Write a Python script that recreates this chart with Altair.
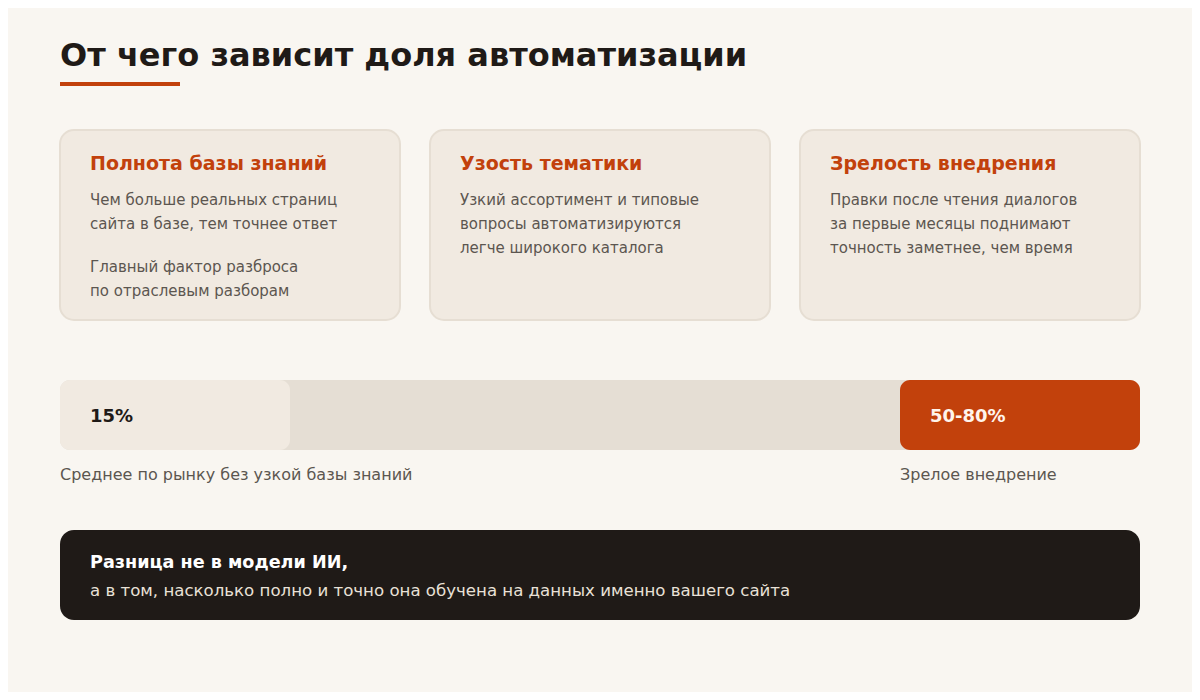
import altair as alt
import pandas as pd

# ---------------- content ----------------
title = "От чего зависит доля автоматизации"
card_titles = ["Полнота базы знаний", "Узость тематики", "Зрелость внедрения"]
card_lines = [
    ["Чем больше реальных страниц", "сайта в базе, тем точнее ответ", "",
     "Главный фактор разброса", "по отраслевым разборам"],
    ["Узкий ассортимент и типовые", "вопросы автоматизируются", "легче широкого каталога"],
    ["Правки после чтения диалогов", "за первые месяцы поднимают", "точность заметнее, чем время"],
]
bar_values = ["15%", "50-80%"]
bar_captions = ["Среднее по рынку без узкой базы знаний", "Зрелое внедрение"]
note_title = "Разница не в модели ИИ,"
note_text = "а в том, насколько полно и точно она обучена на данных именно вашего сайта"

# ---------------- layout (page pixels) ----------------
FONT = "DejaVu Sans"
BG = "#F9F6F1"
CARD = "#F1EAE1"
CARD_BORDER = "#E6DED3"
ORANGE = "#C2410C"
DARK = "#1F1A17"
TRACK = "#E5DED4"
GRAY = "#5C5650"
INK = "#1F1A17"

card_x0 = [60, 430, 800]
card_w = 340
card_y0, card_y1 = 130, 320
bar_y0, bar_y1 = 380, 450
bar_seg_x = [(60, 290), (900, 1140)]

xs = alt.Scale(domain=[8, 1192], range=[0, 1184], zero=False, nice=False)
ys = alt.Scale(domain=[8, 692], range=[0, 684], zero=False, nice=False)


def rects(df, **mark):
    return alt.Chart(df).mark_rect(**mark).encode(
        x=alt.X("x0:Q", scale=xs, axis=None),
        x2="x1:Q",
        y=alt.Y("y0:Q", scale=ys, axis=None),
        y2="y1:Q",
    )


def texts(df, **mark):
    return alt.Chart(df).mark_text(align="left", baseline="alphabetic", font=FONT, **mark).encode(
        x=alt.X("x:Q", scale=xs, axis=None),
        y=alt.Y("y:Q", scale=ys, axis=None),
        text="t:N",
    )


layers = []

# title + underline
layers.append(texts(pd.DataFrame({"x": [60], "y": [66], "t": [title]}),
                    fontSize=32, fontWeight="bold", color=INK))
layers.append(rects(pd.DataFrame({"x0": [60], "x1": [180], "y0": [82], "y1": [86]}), color=ORANGE))

# cards
cards = pd.DataFrame({"x0": card_x0, "x1": [x + card_w for x in card_x0],
                      "y0": [card_y0] * 3, "y1": [card_y1] * 3})
layers.append(rects(cards, fill=CARD, stroke=CARD_BORDER, strokeWidth=2, cornerRadius=14))
layers.append(texts(pd.DataFrame({"x": [x + 30 for x in card_x0], "y": [170] * 3, "t": card_titles}),
                    fontSize=19, fontWeight="bold", color=ORANGE))
rows = []
for cx, lines in zip(card_x0, card_lines):
    y = 205
    for ln in lines:
        if ln == "":
            y += 19
            continue
        rows.append({"x": cx + 30, "y": y, "t": ln})
        y += 24
layers.append(texts(pd.DataFrame(rows), fontSize=15, color=GRAY))

# bar
layers.append(rects(pd.DataFrame({"x0": [60], "x1": [1140], "y0": [bar_y0], "y1": [bar_y1]}),
                    color=TRACK, cornerRadius=10))
layers.append(rects(pd.DataFrame({"x0": [bar_seg_x[0][0]], "x1": [bar_seg_x[0][1]],
                                  "y0": [bar_y0], "y1": [bar_y1]}), color=CARD, cornerRadius=10))
layers.append(rects(pd.DataFrame({"x0": [bar_seg_x[1][0]], "x1": [bar_seg_x[1][1]],
                                  "y0": [bar_y0], "y1": [bar_y1]}), color=ORANGE, cornerRadius=10))
layers.append(texts(pd.DataFrame({"x": [bar_seg_x[0][0] + 30], "y": [422], "t": [bar_values[0]]}),
                    fontSize=18, fontWeight="bold", color=INK))
layers.append(texts(pd.DataFrame({"x": [bar_seg_x[1][0] + 30], "y": [422], "t": [bar_values[1]]}),
                    fontSize=18, fontWeight="bold", color="#FFF4EC"))
layers.append(texts(pd.DataFrame({"x": [60, 900], "y": [480, 480], "t": bar_captions}),
                    fontSize=16, color=GRAY))

# note box
layers.append(rects(pd.DataFrame({"x0": [60], "x1": [1140], "y0": [530], "y1": [620]}),
                    color=DARK, cornerRadius=14))
layers.append(texts(pd.DataFrame({"x": [90], "y": [568], "t": [note_title]}),
                    fontSize=17.6, fontWeight="bold", color="#FFFFFF"))
layers.append(texts(pd.DataFrame({"x": [90], "y": [596], "t": [note_text]}),
                    fontSize=16.6, color="#E9E1D7"))

chart = alt.layer(*layers).properties(
    width=1184, height=684, background=BG, padding=0,
    autosize=alt.AutoSizeParams(type="none"),
).configure_view(stroke=None)

chart.save("out.html", embed_options={"renderer": "svg", "actions": False})
